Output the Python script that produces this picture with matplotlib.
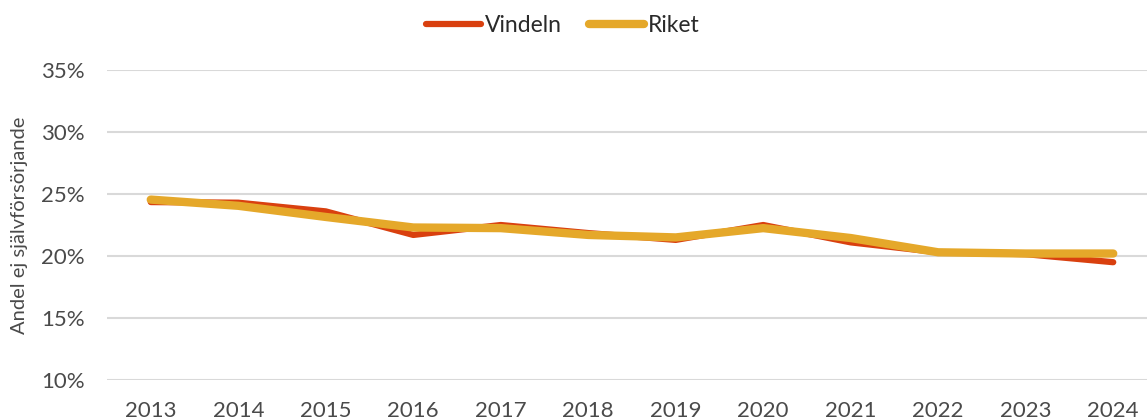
import matplotlib
matplotlib.use("Agg")
import matplotlib.pyplot as plt
from matplotlib.ticker import PercentFormatter

years = ["2013", "2014", "2015", "2016", "2017", "2018", "2019", "2020",
         "2021", "2022", "2023", "2024"]
vindeln = [24.35, 24.3, 23.6, 21.7, 22.5, 21.85, 21.3, 22.5, 21.1, 20.3, 20.15, 19.5]
riket = [24.55, 24.05, 23.15, 22.3, 22.25, 21.7, 21.5, 22.25, 21.45, 20.3, 20.2, 20.2]
yticks = [10, 15, 20, 25, 30, 35]

plt.rcParams['font.family'] = ['Lato', 'DejaVu Sans']

fig = plt.figure(figsize=(11.47, 4.2), dpi=100)
ax = fig.add_axes([0.0933, 0.0952, 0.9154, 0.7381])

x = list(range(len(years)))
ax.plot(x, vindeln, color="#D9400F", lw=4.5, solid_capstyle="round",
        solid_joinstyle="round", label="Vindeln", zorder=3)
ax.plot(x, riket, color="#E5A82A", lw=6, solid_capstyle="round",
        solid_joinstyle="round", label="Riket", zorder=4)

ax.set_xlim(-0.5, len(years) - 0.5)
ax.set_ylim(10, 35)
ax.set_yticks(yticks)
ax.yaxis.set_major_formatter(PercentFormatter(decimals=0))
ax.set_xticks(x)
ax.set_xticklabels(years)
ax.grid(axis="y", color="#D9D9D9", lw=1.5)
ax.set_axisbelow(True)
for s in ax.spines.values():
    s.set_visible(False)
ax.tick_params(axis="both", length=0, labelsize=16, colors="#4a4a4a")
ax.tick_params(axis="x", pad=15)
ax.tick_params(axis="y", pad=16)
ax.set_ylabel("Andel ej självförsörjande", fontsize=14.5, color="#4a4a4a")
ax.yaxis.set_label_coords(-0.075, 0.5)

leg = ax.legend(loc="upper center", bbox_to_anchor=(0.434, 1.245), ncol=2,
                frameon=False, fontsize=16.5, handlelength=2.4, handletextpad=0.15,
                columnspacing=1.2)
for t in leg.get_texts():
    t.set_color("#2a2a2a")

fig.savefig("out.png", dpi=100, facecolor="white")
